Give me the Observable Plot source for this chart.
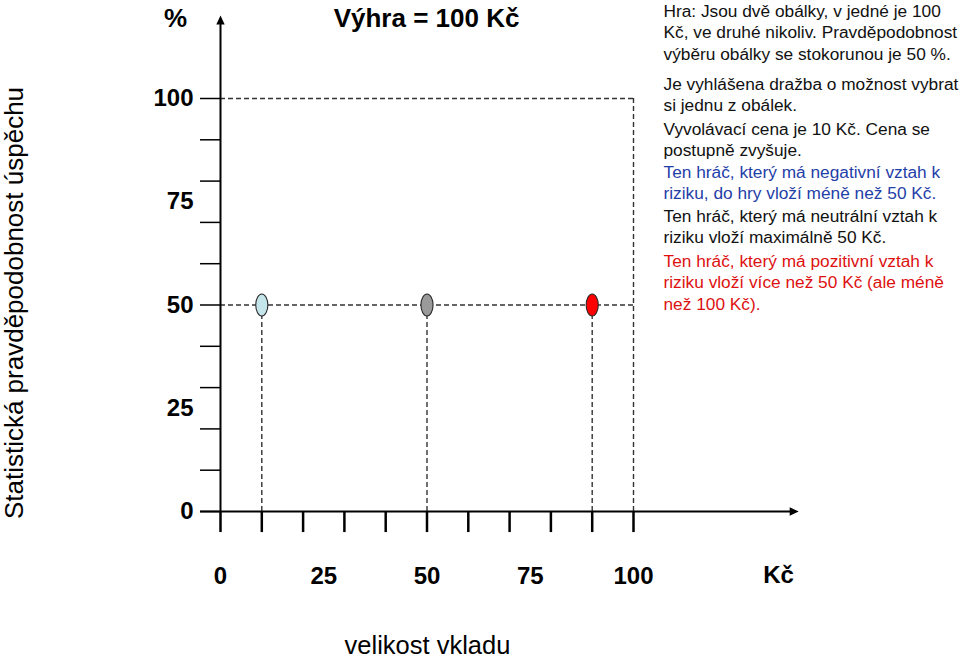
<!DOCTYPE html>
<html><head><meta charset="utf-8">
<script src="https://cdn.jsdelivr.net/npm/d3@7"></script>
<script src="https://cdn.jsdelivr.net/npm/@observablehq/plot@0.6"></script>
<style>html,body{margin:0;padding:0;background:#fff;} svg{display:block;}</style>
</head><body><div id="chart"></div>
<script>
// ---- data ----
const prize = 100;                       // výhra (Kč)
const maxProb = 100;                     // %
const riskAttitudes = ["negativní", "neutrální", "pozitivní"];
const stakes = [10, 50, 90];             // vklad (Kč)
const successProb = [50, 50, 50];        // %
const pointColors = ["#c4e5ea", "#9a9a9a", "#ff0000"];
const xTickLabels = [0, 25, 50, 75, 100];
const yTickLabels = [0, 25, 50, 75, 100];
const minorTicks = [0, 10, 20, 30, 40, 50, 60, 70, 80, 90, 100];
const xUnit = "Kč";
const yUnit = "%";
const title = "Výhra = 100 Kč";
const xLabel = "velikost vkladu";
const yLabel = "Statistická pravděpodobnost úspěchu";
const noteTexts = [
  "Hra: Jsou dvě obálky, v jedné je 100\nKč, ve druhé nikoliv. Pravděpodobnost\nvýběru obálky se stokorunou je 50 %.",
  "Je vyhlášena dražba o možnost vybrat\nsi jednu z obálek.",
  "Vyvolávací cena je 10 Kč. Cena se\npostupně zvyšuje.",
  "Ten hráč, který má negativní vztah k\nriziku, do hry vloží méně než 50 Kč.",
  "Ten hráč, který má neutrální vztah k\nriziku vloží maximálně 50 Kč.",
  "Ten hráč, který má pozitivní vztah k\nriziku vloží více než 50 Kč (ale méně\nnež 100 Kč)."
];
const noteColors = ["#111111", "#111111", "#111111", "#1f40a8", "#111111", "#dd1111"];

// ---- layout (pixels / axis extents) ----
const noteTops = [1, 74, 119, 162, 206, 251];
const axisExt = {xMin: -4.85, xTip: 140, yMin: 0, yTip: 120.1, tickDown: -5.1};

const points = stakes.map((s, i) => ({attitude: riskAttitudes[i], stake: s, prob: successProb[i], color: pointColors[i]}));

const ellipse = {
  draw(ctx, size) {
    const ry = Math.sqrt(size / Math.PI), rx = ry * 0.55, k = 0.5523;
    ctx.moveTo(rx, 0);
    ctx.bezierCurveTo(rx, ry * k, rx * k, ry, 0, ry);
    ctx.bezierCurveTo(-rx * k, ry, -rx, ry * k, -rx, 0);
    ctx.bezierCurveTo(-rx, -ry * k, -rx * k, -ry, 0, -ry);
    ctx.bezierCurveTo(rx * k, -ry, rx, -ry * k, rx, 0);
    ctx.closePath();
  }
};
const arrowHead = {
  draw(ctx) {
    ctx.moveTo(0, 0);
    ctx.lineTo(4.2, 9);
    ctx.lineTo(-4.2, 9);
    ctx.closePath();
  }
};

const dash = {stroke: "#333", strokeWidth: 1.4, strokeDasharray: "5,3"};
const FONT = "'Liberation Sans', Arial, Helvetica, sans-serif";

const chart = Plot.plot({
  width: 960,
  height: 658,
  marginLeft: 220,
  marginRight: 327,
  marginTop: 98,
  marginBottom: 147,
  x: {domain: [0, prize]},
  y: {domain: [0, maxProb]},
  color: {type: "identity"},
  style: {fontFamily: FONT, fontSize: "17px", color: "#000", background: "#fff", overflow: "visible"},
  marks: [
    // dashed guides
    Plot.ruleY([maxProb], {x1: 0, x2: prize, ...dash}),
    Plot.ruleX([prize], {y1: 0, y2: maxProb, ...dash}),
    Plot.ruleY([successProb[0]], {x1: 0, x2: prize, ...dash}),
    Plot.ruleX(points, {x: "stake", y1: 0, y2: "prob", ...dash}),
    // axes lines
    Plot.ruleX([0], {y1: axisExt.yMin, y2: axisExt.yTip - 1.5, stroke: "#000", strokeWidth: 2}),
    Plot.ruleY([0], {x1: axisExt.xMin, x2: axisExt.xTip - 1.5, stroke: "#000", strokeWidth: 2}),
    Plot.dot([{x: 0, y: axisExt.yTip}], {x: "x", y: "y", symbol: arrowHead, fill: "#000", stroke: "none"}),
    Plot.dot([{x: axisExt.xTip, y: 0}], {x: "x", y: "y", symbol: arrowHead, rotate: 90, fill: "#000", stroke: "none"}),
    // tick marks
    Plot.ruleY(minorTicks, {x1: axisExt.xMin, x2: 0, stroke: "#000", strokeWidth: 1.5}),
    Plot.ruleX(minorTicks, {y1: axisExt.tickDown, y2: 0, stroke: "#000", strokeWidth: 2.5}),
    // tick labels
    Plot.axisX({ticks: xTickLabels, tickSize: 0, tickPadding: 55, fontSize: 24, fontWeight: "bold", label: null}),
    Plot.axisY({ticks: yTickLabels, tickSize: 0, tickPadding: 27, fontSize: 24, fontWeight: "bold", label: null}),
    Plot.text([xUnit], {frameAnchor: "bottom-right", dx: 145, dy: 64, fontSize: 24, fontWeight: "bold", lineAnchor: "middle", textAnchor: "middle"}),
    // points
    Plot.dot(points, {x: "stake", y: "prob", fill: "color", symbol: ellipse, r: 11, stroke: "#2a2a2a", strokeWidth: 1.1}),
    // titles & labels
    Plot.text([yUnit], {frameAnchor: "top-left", dx: -45, dy: -80, fontSize: 26, fontWeight: "bold", lineAnchor: "middle", textAnchor: "middle"}),
    Plot.text([title], {frameAnchor: "top-left", dx: 206, dy: -80, fontSize: 26, fontWeight: "bold", lineAnchor: "middle", textAnchor: "middle"}),
    Plot.text([xLabel], {frameAnchor: "bottom-left", dx: 207, dy: 134, fontSize: 25.5, lineAnchor: "middle", textAnchor: "middle"}),
    Plot.text([yLabel], {frameAnchor: "left", dx: -206, dy: -2, rotate: -90, fontSize: 26, lineAnchor: "middle", textAnchor: "middle"}),
    // notes
    ...noteTexts.map((t, i) => Plot.text([t], {
      frameAnchor: "top-left", dx: 443, dy: noteTops[i] - 98,
      fontSize: 17.3, lineHeight: 1.24, lineAnchor: "top", textAnchor: "start", fill: noteColors[i]
    }))
  ]
});
document.getElementById("chart").append(chart);
</script>
</body></html>
